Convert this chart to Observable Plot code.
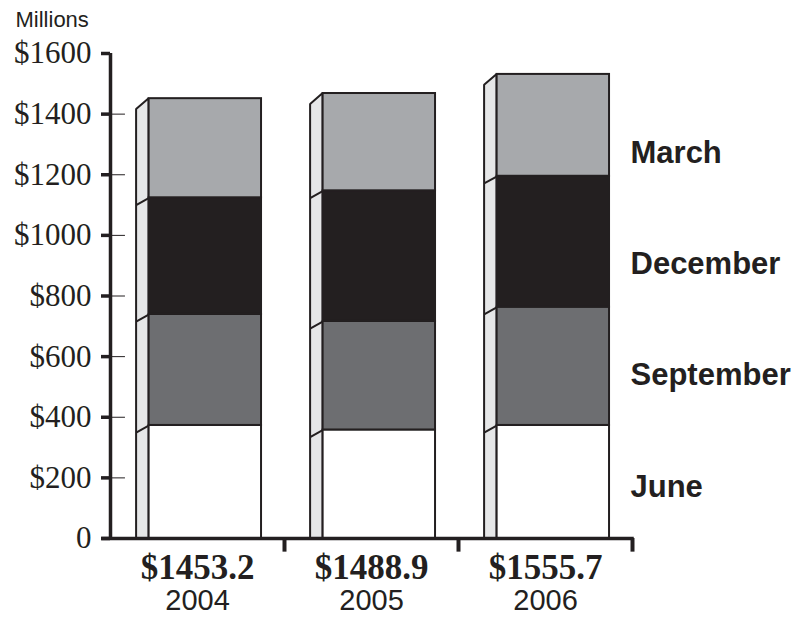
<!DOCTYPE html>
<html>
<head>
<meta charset="utf-8">
<script src="https://cdn.jsdelivr.net/npm/d3@7"></script>
<script src="https://cdn.jsdelivr.net/npm/@observablehq/plot@0.6"></script>
<style>
  body { margin: 0; background: #fff; }
  #chart svg { display: block; }
</style>
</head>
<body>
<div id="chart"></div>
<script>
// ---- data ($ millions) ----
const years = ["2004", "2005", "2006"];
const totals = [1453.2, 1488.9, 1555.7];
const quarters = ["June", "September", "December", "March"]; // bottom to top
const june = [373, 358, 373];
const september = [366, 358, 390];
const december = [385, 431, 432];
const march = [327, 321, 336];
const yTicks = [0, 200, 400, 600, 800, 1000, 1200, 1400, 1600];

const fills = {June: "#ffffff", September: "#6d6e71", December: "#231f20", March: "#a7a9ac"};
const ink = "#231f20";
const sideFill = "#e6e7e8";

// layout within each year band (x in band units)
const sideL = 0.15, frontL = 0.222, frontR = 0.868;
const topOff = 36, segOff = 23; // slant of side face (value units)

const series = {June: june, September: september, December: december, March: march};
const segs = [];
years.forEach((yr, i) => {
  let cum = 0;
  quarters.forEach(q => {
    const v = series[q][i];
    segs.push({year: yr, i, q, y1: cum, y2: cum + v});
    cum += v;
  });
});
const tops = years.map((yr, i) => d3.sum(quarters, q => series[q][i]));

const sidePts = years.flatMap((yr, i) => [
  {year: yr, x: i + sideL, y1: 0, y2: tops[i] - topOff},
  {year: yr, x: i + frontL, y1: 0, y2: tops[i]}
]);
const sideLinks = segs.filter(s => s.q !== "March").map(s => ({
  x1: s.i + sideL, y1: s.y2 - segOff, x2: s.i + frontL, y2: s.y2
}));

const labels = quarters.map((q, k) => ({q, y: 171 + 367 * k}));

const chart = Plot.plot({
  width: 797,
  height: 617,
  marginTop: 53,
  marginBottom: 79,
  marginLeft: 110,
  marginRight: 165,
  x: {domain: [0, 3], axis: null},
  y: {domain: [0, 1600], axis: null},
  style: {background: "#fff"},
  marks: [
    // side faces
    Plot.areaY(sidePts, {x: "x", y1: "y1", y2: "y2", z: "year", fill: sideFill, stroke: ink, strokeWidth: 2, strokeLinejoin: "miter"}),
    Plot.link(sideLinks, {x1: "x1", y1: "y1", x2: "x2", y2: "y2", stroke: ink, strokeWidth: 2}),
    // front faces
    Plot.rect(segs, {
      x1: d => d.i + frontL, x2: d => d.i + frontR,
      y1: "y1", y2: "y2",
      fill: d => fills[d.q], stroke: ink, strokeWidth: 2
    }),
    // thin inner ticks
    Plot.ruleY(yTicks.filter(t => t > 0 && t < 1600), {x1: 0, x2: 0.086, stroke: ink, strokeWidth: 1}),
    // y axis with thick outer ticks
    Plot.axisY({
      ticks: yTicks, tickSize: 9, tickPadding: 10, strokeWidth: 3.5, stroke: ink,
      tickFormat: d => d === 0 ? "0" : "$" + d,
      fontSize: 31, fontFamily: "Liberation Serif", fill: ink, label: null
    }),
    Plot.ruleX([0], {y1: 0, y2: 1600, stroke: ink, strokeWidth: 3.5}),
    Plot.ruleY([0], {x1: -0.05, x2: 3.01, stroke: ink, strokeWidth: 3.5}),
    Plot.ruleX([1, 2, 3], {y1: 0, y2: -45, stroke: ink, strokeWidth: 4}),
    // totals and years
    Plot.text(years, {x: (d, i) => i + 0.5, y: 0, text: (d, i) => "$" + totals[i].toFixed(1),
      dy: 29, lineAnchor: "middle", fontFamily: "Liberation Serif", fontWeight: "bold", fontSize: 35, fill: ink}),
    Plot.text(years, {x: (d, i) => i + 0.5, y: 0, text: d => d,
      dy: 62, lineAnchor: "middle", fontFamily: "Liberation Sans", fontSize: 29, fill: ink}),
    // series labels on the right
    Plot.text(labels, {x: 3, y: "y", text: "q", dx: -2, textAnchor: "start", lineAnchor: "middle",
      fontFamily: "Liberation Sans", fontWeight: "bold", fontSize: 31, fill: ink}),
    // unit label
    Plot.text(["Millions"], {frameAnchor: "top-left", dx: -95, dy: -27, textAnchor: "start", lineAnchor: "bottom",
      fontFamily: "Liberation Sans", fontSize: 22, fill: ink})
  ]
});
document.getElementById("chart").append(chart);
</script>
</body>
</html>
